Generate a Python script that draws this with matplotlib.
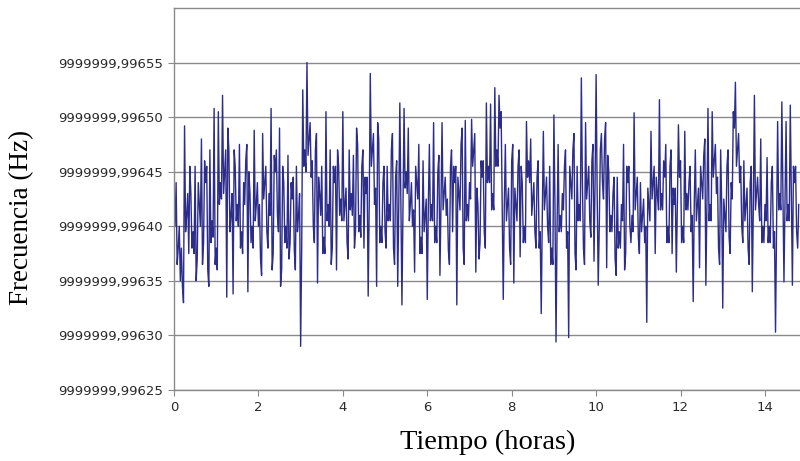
import numpy as np
import matplotlib.pyplot as plt
import matplotlib.ticker as tck

# frecuencia en µHz por encima de 9999999,996 Hz (400 -> 9999999,99640)
dt = 0.025  # horas entre muestras

# muestras pares por hora
hora_00 = [415, 440, 380, 350, 345, 492, 410, 375, 430, 395, 455, 370, 420, 480, 385, 440, 360, 470, 405, 508]
hora_01 = [380, 505, 440, 520, 450, 335, 470, 410, 338, 455, 420, 475, 395, 440, 460, 340, 430, 400, 488, 420]
hora_02 = [400, 370, 485, 440, 395, 430, 508, 375, 450, 410, 490, 360, 440, 400, 465, 385, 425, 378, 455, 410]
hora_03 = [290, 525, 470, 550, 480, 445, 400, 470, 348, 430, 455, 390, 505, 420, 470, 380, 440, 360, 455, 425]
hora_04 = [505, 420, 385, 470, 430, 465, 395, 475, 410, 455, 380, 430, 336, 540, 470, 420, 345, 480, 400, 440]
hora_05 = [395, 455, 420, 470, 380, 445, 345, 513, 328, 508, 450, 490, 420, 400, 358, 440, 475, 390, 460, 410]
hora_06 = [333, 475, 420, 495, 400, 450, 355, 495, 430, 410, 378, 455, 395, 440, 328, 430, 475, 380, 497, 420]
hora_07 = [440, 498, 470, 358, 420, 385, 445, 395, 513, 455, 512, 430, 527, 470, 520, 505, 333, 475, 420, 380]
hora_08 = [460, 348, 420, 455, 372, 440, 400, 496, 460, 480, 425, 395, 445, 380, 320, 487, 430, 400, 455, 380]
hora_09 = [502, 294, 475, 410, 430, 455, 380, 298, 440, 470, 375, 455, 420, 536, 380, 495, 440, 405, 460, 368]
hora_10 = [539, 346, 470, 440, 480, 362, 450, 410, 430, 370, 445, 395, 420, 475, 375, 440, 400, 410, 504, 430]
hora_11 = [390, 440, 410, 385, 312, 420, 487, 440, 375, 430, 516, 430, 460, 475, 400, 455, 375, 420, 358, 493]
hora_12 = [460, 400, 487, 430, 440, 395, 331, 470, 420, 362, 440, 465, 346, 508, 420, 505, 460, 430, 380, 470]
hora_13 = [325, 410, 455, 390, 440, 505, 532, 470, 440, 400, 460, 420, 380, 440, 340, 520, 430, 420, 480, 400]
hora_14 = [420, 463, 400, 440, 380, 303, 496, 430, 514, 349, 496, 420, 511, 346, 440, 395, 420]

# muestras impares (entre cada par)
medio_00 = [400, 365, 400, 380, 330, 395, 430, 455, 380, 375, 350, 440, 400, 365, 460, 455, 345, 385, 390, 365]
medio_01 = [360, 420, 425, 430, 470, 490, 395, 430, 470, 405, 400, 380, 375, 420, 475, 450, 385, 380, 405, 440]
medio_02 = [420, 355, 425, 455, 380, 410, 360, 465, 470, 395, 345, 455, 385, 380, 370, 440, 445, 360, 395, 430]
medio_03 = [380, 455, 450, 465, 495, 460, 385, 485, 445, 410, 375, 375, 405, 400, 365, 455, 455, 470, 410, 405]
medio_04 = [405, 435, 370, 415, 410, 380, 490, 395, 390, 470, 445, 445, 420, 455, 485, 435, 495, 385, 385, 455]
medio_05 = [380, 405, 405, 485, 365, 460, 420, 420, 420, 435, 430, 405, 440, 415, 455, 425, 375, 375, 395, 425]
medio_06 = [420, 405, 405, 385, 385, 465, 420, 415, 445, 425, 365, 470, 455, 455, 445, 415, 490, 365, 405, 405]
medio_07 = [425, 455, 485, 435, 370, 460, 460, 380, 440, 440, 415, 415, 455, 455, 490, 420, 420, 405, 435, 365]
medio_08 = [475, 435, 405, 470, 455, 385, 385, 445, 440, 410, 440, 380, 460, 395, 410, 415, 445, 385, 365, 365]
medio_09 = [420, 400, 395, 395, 415, 470, 395, 455, 425, 485, 360, 405, 405, 440, 365, 425, 455, 390, 475, 440]
medio_10 = [430, 400, 485, 425, 495, 465, 395, 395, 445, 355, 380, 380, 405, 360, 455, 455, 385, 395, 415, 445]
medio_11 = [375, 395, 425, 400, 435, 405, 425, 455, 445, 415, 415, 415, 445, 385, 385, 470, 435, 435, 420, 445]
medio_12 = [385, 385, 415, 415, 455, 410, 420, 405, 435, 455, 425, 480, 420, 405, 405, 445, 475, 445, 365, 420]
medio_13 = [425, 395, 470, 375, 425, 490, 455, 485, 455, 385, 405, 435, 365, 455, 420, 415, 445, 405, 385, 385]
medio_14 = [405, 385, 385, 455, 395, 400, 415, 415, 430, 420, 405, 405, 430, 455, 455, 380]

pares = [hora_00, hora_01, hora_02, hora_03, hora_04, hora_05, hora_06, hora_07,
         hora_08, hora_09, hora_10, hora_11, hora_12, hora_13, hora_14]
impares = [medio_00, medio_01, medio_02, medio_03, medio_04, medio_05, medio_06, medio_07,
           medio_08, medio_09, medio_10, medio_11, medio_12, medio_13, medio_14]

frecuencia = []
for a, b in zip(pares, impares):
    for i, v in enumerate(a):
        frecuencia.append(v)
        if i < len(b):
            frecuencia.append(b[i])
frecuencia = np.array(frecuencia)
tiempo = np.arange(len(frecuencia)) * dt

marcas_y = [250, 300, 350, 400, 450, 500, 550]


def etiqueta(v, pos):
    return "9999999," + f"{0.996 + v * 1e-6:.5f}"[2:]


fig = plt.figure(figsize=(8, 4.61), dpi=100)
ax = fig.add_axes([174 / 800, 1 - 390 / 461, 1 - 174 / 800, 382 / 461])

ax.plot(tiempo, frecuencia, color='#2c2c8a', lw=1.0)

ax.set_xlim(0, 14.83)
ax.set_ylim(250, 600)
ax.xaxis.set_major_locator(tck.MultipleLocator(2))
ax.yaxis.set_major_locator(tck.FixedLocator(marcas_y))
ax.yaxis.set_major_formatter(tck.FuncFormatter(etiqueta))

ax.grid(axis='y', color='#8a8a8a', lw=1)
ax.set_axisbelow(True)
for s in ['left', 'bottom', 'top']:
    ax.spines[s].set_color('#8a8a8a')
    ax.spines[s].set_linewidth(1)
ax.spines['right'].set_visible(False)
ax.tick_params(direction='out', length=4, color='#8a8a8a', labelsize=9.5,
               labelcolor='#2a2a2a', pad=4)

ax.set_xlabel('Tiempo (horas)', fontfamily='Liberation Serif', fontsize=20.5, va='center')
ax.set_ylabel('Frecuencia (Hz)', fontfamily='Liberation Serif', fontsize=19.5, va='center')
ax.xaxis.set_label_coords(0.5016, -0.136)
ax.yaxis.set_label_coords(-0.243, 0.453)

fig.savefig('out.png', dpi=100)
